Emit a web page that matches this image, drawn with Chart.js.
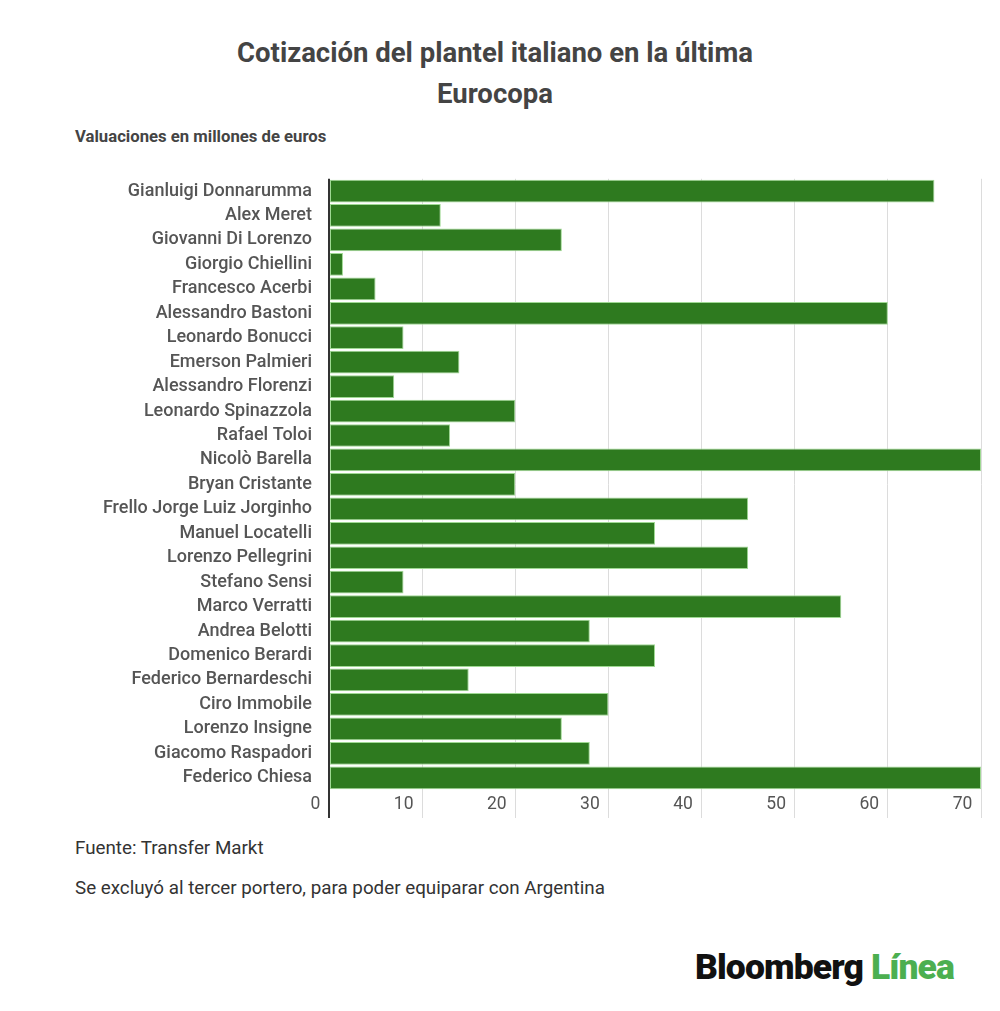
<!DOCTYPE html>
<html>
<head>
<meta charset="utf-8">
<script src="https://cdn.jsdelivr.net/npm/chart.js@4"></script>
<style>
  html, body { margin: 0; padding: 0; background: #fff; }
  body { width: 1000px; height: 1011px; position: relative; overflow: hidden; font-family: Roboto, sans-serif; }
  .t { position: absolute; white-space: nowrap; }
  #title { left: 0; width: 990px; top: 32px; text-align: center; font-size: 27.5px; font-weight: 700; color: #444; line-height: 41px; }
  #sub { left: 75px; top: 127px; font-size: 16.7px; font-weight: 700; color: #444; }
  #src { left: 75px; top: 837px; font-size: 18.8px; color: #333; }
  #note { left: 75px; top: 877px; font-size: 18.8px; color: #333; }
  #logo { left: 695px; top: 946px; font-size: 35.5px; font-weight: 900; letter-spacing: -0.9px; color: #111; }
  #logo span { color: #4caf50; }
  #box { position: absolute; left: 0; top: 159px; width: 1000px; height: 671px; }
</style>
</head>
<body>
<div class="t" id="title">Cotización del plantel italiano en la última<br>Eurocopa</div>
<div class="t" id="sub">Valuaciones en millones de euros</div>
<div id="box"><canvas id="c"></canvas></div>
<div class="t" id="src">Fuente: Transfer Markt</div>
<div class="t" id="note">Se excluyó al tercer portero, para poder equiparar con Argentina</div>
<div class="t" id="logo">Bloomberg <span>Línea</span></div>
<script>
/* --- datos (millones de euros) --------------------------------- */
const jugadores = [
  'Gianluigi Donnarumma', 'Alex Meret', 'Giovanni Di Lorenzo', 'Giorgio Chiellini',
  'Francesco Acerbi', 'Alessandro Bastoni', 'Leonardo Bonucci', 'Emerson Palmieri',
  'Alessandro Florenzi', 'Leonardo Spinazzola', 'Rafael Toloi', 'Nicolò Barella',
  'Bryan Cristante', 'Frello Jorge Luiz Jorginho', 'Manuel Locatelli', 'Lorenzo Pellegrini',
  'Stefano Sensi', 'Marco Verratti', 'Andrea Belotti', 'Domenico Berardi',
  'Federico Bernardeschi', 'Ciro Immobile', 'Lorenzo Insigne', 'Giacomo Raspadori',
  'Federico Chiesa'
];
const valores = [65, 12, 25, 1.5, 5, 60, 8, 14, 7, 20, 13, 70, 20, 45, 35, 45, 8, 55, 28, 35, 15, 30, 25, 28, 70];
const ticksX  = [0, 10, 20, 30, 40, 50, 60, 70];

/* --- gráfico ---------------------------------------------------- */
new Chart(document.getElementById('c'), {
  type: 'bar',
  data: {
    labels: jugadores,
    datasets: [{
      data: valores,
      backgroundColor: '#2e7a1f',
      borderColor: '#9fd993',
      borderWidth: 1,
      borderSkipped: false,
      categoryPercentage: 0.93,
      barPercentage: 1
    }]
  },
  options: {
    indexAxis: 'y',
    responsive: true,
    maintainAspectRatio: false,
    animation: false,
    layout: { padding: { top: 0, right: 19, left: 0, bottom: 0 } },
    plugins: { legend: { display: false }, tooltip: { enabled: false } },
    scales: {
      x: {
        min: 0, max: 70,
        afterBuildTicks: s => { s.ticks = ticksX.map(v => ({ value: v })); },
        afterFit: s => { s.height = 40; },
        border: { display: false },
        grid: {
          color: c => c.tick && c.tick.value === 0 ? '#333' : '#dcdcdc',
          lineWidth: c => c.tick && c.tick.value === 0 ? 2 : 1,
          drawTicks: true,
          tickLength: 28
        },
        ticks: {
          align: 'end',
          padding: -24,
          color: '#555',
          font: { family: 'Roboto', size: 17.5 },
          callback: v => v + '  '
        }
      },
      y: {
        afterFit: s => { s.width = 329; },
        border: { display: false },
        grid: { display: false },
        ticks: {
          padding: 9,
          color: '#555',
          font: { family: 'Roboto', size: 18, weight: 500 },
          autoSkip: false
        }
      }
    }
  }
});
</script>
</body>
</html>
